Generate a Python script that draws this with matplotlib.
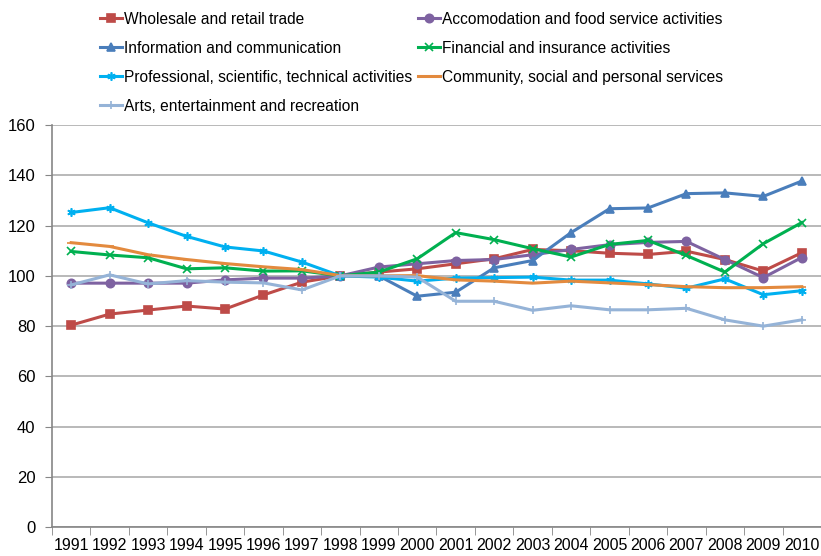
import matplotlib
matplotlib.use('Agg')
import matplotlib.pyplot as plt
import numpy as np

plt.rcParams['font.family'] = ['Liberation Sans', 'DejaVu Sans']

# Index values (1998 = 100)
years = list(range(1991, 2011))
wholesale = [80.4, 84.8, 86.4, 88.0, 86.8, 92.4, 97.5, 100, 101.5, 102.8,
             104.8, 106.8, 110.5, 110.0, 109.0, 108.5, 109.8, 106.5, 101.9, 109.2]
accomodation = [97.1, 97.1, 97.1, 97.1, 98.4, 99.1, 99.1, 100, 103.5, 104.8,
                106.1, 106.5, 108.4, 110.5, 112.4, 113.3, 113.7, 106.5, 99.3, 107.3]
information = [np.nan] * 7 + [100, 100, 91.9, 93.5, 103.2, 106.1, 117.2,
                              126.7, 127.0, 132.7, 133.0, 131.6, 137.7]
financial = [109.7, 108.3, 107.2, 102.8, 103.2, 101.9, 102.0, 100, 101.5, 106.8,
             117.2, 114.4, 110.8, 107.5, 112.5, 114.1, 108.1, 101.5, 112.8, 121.2]
professional = [125.2, 127.1, 121.1, 115.7, 111.5, 109.9, 105.5, 100, 99.5, 97.9,
                99.1, 99.3, 99.5, 98.3, 98.3, 96.8, 95.1, 98.8, 92.5, 94.1]
community = [113.2, 111.7, 108.4, 106.5, 104.9, 103.6, 102.5, 100.1, 100, 100.1,
             98.4, 97.9, 97.1, 97.9, 97.2, 96.5, 95.7, 95.3, 95.3, 95.7]
arts = [96.4, 100.4, 96.8, 98.1, 97.5, 97.2, 94.4, 100, 100, 99.5,
        89.9, 89.9, 86.3, 88.1, 86.5, 86.5, 87.1, 82.5, 80.0, 82.5]

series = [
    ('Wholesale and retail trade', wholesale, '#BE4B48', 's'),
    ('Accomodation and food service activities', accomodation, '#7E62A1', 'o'),
    ('Information and communication', information, '#4A7EBB', '^'),
    ('Financial and insurance activities', financial, '#00B050', 'x'),
    ('Professional, scientific, technical activities', professional, '#00B0F0', (6, 2, 0)),
    ('Community, social and personal services', community, '#E38A3E', '_'),
    ('Arts, entertainment and recreation', arts, '#95B3D7', '+'),
]

fig = plt.figure(figsize=(8.21, 5.56), dpi=100)
ax = fig.add_axes([0.0633, 0.0516, 0.9367, 0.7236])

x = np.arange(len(years))
handles = {}
for i, (name, vals, col, mk) in enumerate(series):
    h, = ax.plot(x, vals, color=col, lw=2.2, marker=mk, markersize=6,
                 markeredgewidth=1.2, label=name, zorder=3 + i)
    handles[name] = h

ax.set_xlim(-0.5, len(years) - 0.5)
ax.set_ylim(0, 160)
ax.set_yticks(np.arange(0, 161, 20))
ax.set_xticks(x)
ax.set_xticklabels([str(y) for y in years])
ax.set_xticks(np.arange(-0.5, len(years), 1), minor=True)
ax.tick_params(axis='x', which='major', length=0, pad=8, labelsize=11.5)
ax.tick_params(axis='x', which='minor', length=6, color='#868686')
ax.tick_params(axis='y', length=5, color='#868686', labelsize=12, pad=7)

ax.grid(axis='y', color='#B3B3B3', lw=1.3)
ax.set_axisbelow(True)
for s in ['top', 'right']:
    ax.spines[s].set_visible(False)
for s in ['left', 'bottom']:
    ax.spines[s].set_color('#868686')
    ax.spines[s].set_linewidth(1.2)

# legend: two columns, filled column-wise
order = [0, 2, 4, 6, 1, 3, 5]
hs = [handles[series[k][0]] for k in order]
fig.legend(hs, [series[k][0] for k in order], ncol=2, frameon=False,
           loc='upper left', bbox_to_anchor=(0.105, 1.004), fontsize=11.2,
           handlelength=1.4, handletextpad=0.15, columnspacing=0.38,
           labelspacing=0.9)

fig.savefig('out.png', dpi=100)
